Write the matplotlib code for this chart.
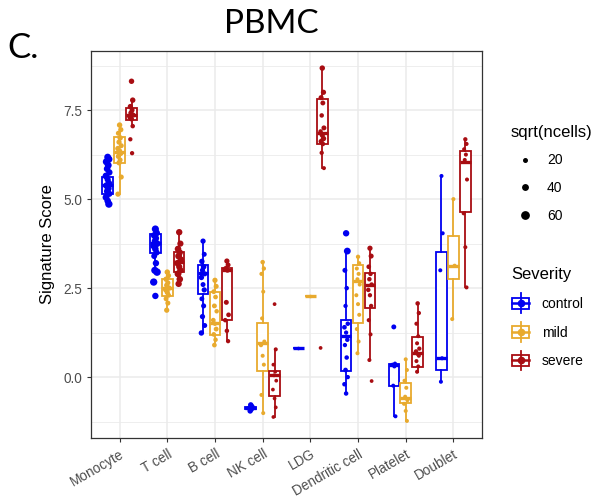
import matplotlib
matplotlib.use("Agg")
import matplotlib.pyplot as plt
from matplotlib.legend_handler import HandlerBase
from matplotlib.patches import Rectangle
from matplotlib.lines import Line2D
import numpy as np

plt.rcParams['font.family'] = ['Liberation Sans', 'DejaVu Sans']

cell_types = ['Monocyte', 'T cell', 'B cell', 'NK cell', 'LDG',
              'Dendritic cell', 'Platelet', 'Doublet']
severities = ['control', 'mild', 'severe']
colors = {'control': '#0000F0', 'mild': '#E8AA2E', 'severe': '#A80D12'}

# box stats per severity: (q1, median, q3, whisker low, whisker high), one per cell type
box_control = [(5.14, 5.39, 5.62, 4.86, 6.18), (3.48, 3.76, 4.01, 3.00, 4.16),
               (2.33, 2.93, 3.15, 1.24, 3.82), (-0.90, -0.87, -0.83, -0.95, -0.78),
               (0.82, 0.82, 0.82, 0.82, 0.82), (0.17, 1.16, 1.60, -0.46, 3.54),
               (-0.24, 0.35, 0.38, -1.10, 0.38), (0.21, 0.53, 3.52, -0.13, 5.65)]
box_mild = [(6.01, 6.32, 6.74, 5.14, 7.08), (2.28, 2.50, 2.75, 1.88, 2.95),
            (1.18, 1.52, 2.39, 0.90, 2.72), (0.17, 0.95, 1.52, -1.01, 3.23),
            (2.28, 2.28, 2.28, 2.28, 2.28), (1.52, 2.70, 3.15, 0.67, 3.38),
            (-0.72, -0.58, -0.17, -1.23, 0.50), (2.77, 3.13, 3.97, 1.63, 5.00)]
box_severe = [(7.22, 7.36, 7.55, 7.05, 7.78), (2.95, 3.24, 3.52, 2.58, 4.07),
              (1.60, 3.00, 3.06, 1.01, 3.26), (-0.53, 0.06, 0.17, -1.12, 0.78),
              (6.56, 6.85, 7.80, 5.87, 8.68), (1.93, 2.58, 2.92, 0.48, 3.62),
              (0.29, 0.68, 1.13, 0.15, 2.07), (4.64, 6.05, 6.36, 2.52, 6.68)]

# per-sample signature scores and sqrt(ncells)
score_control = [
    [6.18, 6.12, 6.05, 5.95, 5.85, 5.75, 5.65, 5.55, 5.45, 5.38, 5.30, 5.22, 5.15, 5.05, 4.95, 4.86],
    [4.16, 4.05, 3.98, 3.90, 3.82, 3.75, 3.68, 3.60, 3.50, 3.40, 3.20, 3.00, 2.95, 2.67, 2.28],
    [3.82, 3.45, 3.25, 3.10, 3.00, 2.90, 2.80, 2.60, 2.45, 2.20, 2.00, 1.70, 1.45, 1.24],
    [-0.78, -0.83, -0.87, -0.90, -0.95],
    [0.82],
    [4.04, 3.54, 3.00, 2.50, 2.00, 1.50, 1.40, 1.25, 1.05, 0.90, 0.55, 0.20, 0.00, -0.20, -0.46],
    [1.41, 0.38, 0.35, 0.30, -0.24, -1.10],
    [5.65, 4.04, 3.00, 0.53, -0.13]]
size_control = [
    [55, 58, 60, 55, 52, 50, 55, 48, 50, 52, 55, 50, 48, 55, 52, 60],
    [58, 55, 52, 50, 48, 55, 50, 52, 48, 45, 50, 58, 62, 60, 50],
    [38, 35, 40, 42, 38, 36, 40, 35, 38, 34, 36, 38, 35, 40],
    [40, 40, 40, 40, 40],
    [20],
    [50, 55, 35, 30, 28, 30, 32, 28, 30, 28, 30, 32, 28, 30, 30],
    [35, 25, 25, 25, 25, 25],
    [25, 25, 25, 25, 25]]
score_mild = [
    [7.08, 6.95, 6.85, 6.72, 6.60, 6.50, 6.42, 6.35, 6.28, 6.20, 6.10, 6.02, 5.62, 5.14],
    [2.95, 2.85, 2.75, 2.65, 2.58, 2.50, 2.45, 2.38, 2.30, 2.20, 2.08, 1.88],
    [2.72, 2.55, 2.40, 2.25, 2.00, 1.85, 1.60, 1.50, 1.35, 1.20, 1.05, 0.90],
    [3.23, 3.05, 2.90, 2.40, 1.65, 1.00, 0.90, 0.60, 0.35, -0.50, -1.01],
    [2.28],
    [3.38, 3.20, 3.05, 2.90, 2.75, 2.60, 2.30, 2.05, 1.75, 1.35, 1.00, 0.67],
    [0.50, 0.20, -0.10, -0.30, -0.55, -0.65, -0.75, -0.95, -1.23],
    [5.00, 3.13, 1.63]]
size_mild = [
    [40, 38, 36, 40, 38, 35, 40, 38, 36, 38, 35, 38, 36, 38],
    [40, 38, 40, 36, 38, 40, 36, 38, 36, 35, 36, 38],
    [38, 36, 34, 32, 34, 30, 32, 30, 34, 32, 30, 32],
    [30, 28, 26, 25, 25, 25, 28, 25, 25, 25, 25],
    [20],
    [28, 25, 25, 25, 25, 25, 25, 25, 25, 25, 25, 25],
    [25, 25, 25, 25, 25, 25, 25, 25, 25],
    [25, 25, 25]]
score_severe = [
    [8.31, 7.78, 7.60, 7.50, 7.42, 7.36, 7.30, 7.25, 7.05, 6.68, 6.29],
    [4.07, 3.75, 3.60, 3.50, 3.40, 3.30, 3.20, 3.10, 3.00, 2.90, 2.75, 2.62],
    [3.26, 3.15, 3.05, 3.00, 2.10, 1.75, 1.60, 1.30, 1.01],
    [2.05, 0.78, 0.35, 0.15, 0.05, -0.10, -0.35, -0.60, -0.85, -1.12],
    [8.68, 8.00, 7.85, 7.70, 7.35, 7.00, 6.90, 6.80, 6.70, 6.62, 6.55, 6.30, 5.87, 0.82],
    [3.62, 3.40, 3.10, 2.90, 2.75, 2.60, 2.45, 2.30, 2.00, 1.60, 1.20, 0.48, -0.11],
    [2.07, 1.80, 1.50, 1.15, 0.95, 0.80, 0.72, 0.65, 0.60, 0.45, 0.30, 0.15],
    [6.68, 6.55, 6.40, 6.25, 6.10, 5.55, 4.60, 3.65, 2.52]]
size_severe = [
    [40, 40, 38, 36, 38, 35, 36, 35, 30, 28, 28],
    [50, 48, 52, 50, 55, 50, 52, 48, 50, 55, 52, 50],
    [38, 35, 36, 34, 35, 32, 30, 30, 28],
    [22, 25, 22, 22, 22, 22, 22, 22, 22, 22],
    [40, 38, 36, 34, 30, 35, 30, 38, 40, 36, 32, 28, 25, 22],
    [38, 36, 32, 30, 30, 30, 30, 28, 28, 26, 25, 25, 22],
    [30, 28, 26, 25, 25, 28, 30, 26, 25, 25, 25, 25],
    [28, 26, 25, 25, 25, 25, 25, 25, 25]]

boxes = {'control': box_control, 'mild': box_mild, 'severe': box_severe}
scores = {'control': score_control, 'mild': score_mild, 'severe': score_severe}
sizes = {'control': size_control, 'mild': size_mild, 'severe': size_severe}


def msize(n):
    return (1.2 + 0.068 * np.asarray(n)) ** 2


fig = plt.figure(figsize=(5.97, 5.0), dpi=100)
ax = fig.add_axes([0.1524, 0.124, 0.655, 0.774])

offsets = {'control': -0.25, 'mild': 0.0, 'severe': 0.25}
jit = [0.0, 0.025, -0.025, 0.012, -0.012, 0.035, -0.035]
bw = 0.22
for sev in severities:
    c = colors[sev]
    x = np.arange(len(cell_types)) + offsets[sev]
    stats = []
    for q1, med, q3, lo, hi in boxes[sev]:
        stats.append(dict(q1=q1, med=med, q3=q3, whislo=lo, whishi=hi, fliers=[]))
    ax.bxp(stats, positions=x, widths=bw, patch_artist=True, showcaps=False,
           boxprops=dict(facecolor='white', edgecolor=c, linewidth=1.3),
           whiskerprops=dict(color=c, linewidth=1.3),
           medianprops=dict(color=c, linewidth=2.4, solid_capstyle='butt'),
           zorder=2)
    for i, (vals, ns) in enumerate(zip(scores[sev], sizes[sev])):
        xs = [x[i] + jit[k % len(jit)] for k in range(len(vals))]
        ax.scatter(xs, vals, s=msize(ns), color=c, linewidths=0, zorder=3)

ax.set_xlim(-0.6, 7.6)
ax.set_ylim(-1.71, 9.16)
ax.set_xticks(np.arange(len(cell_types)))
ax.set_xticklabels(cell_types, rotation=30, ha='right', rotation_mode='anchor',
                   fontsize=9.8, color='#4D4D4D')
ax.set_yticks([0, 2.5, 5, 7.5])
ax.set_yticklabels(['0.0', '2.5', '5.0', '7.5'], fontsize=9.8, color='#4D4D4D')
ax.set_yticks([-1.25, 1.25, 3.75, 6.25, 8.75], minor=True)
ax.tick_params(axis='both', which='major', length=3, color='#333333', width=0.8)
ax.tick_params(axis='y', which='minor', length=0)
ax.grid(True, which='major', color='#EBEBEB', linewidth=1.1, zorder=0)
ax.grid(True, which='minor', axis='y', color='#EBEBEB', linewidth=0.6, zorder=0)
ax.set_axisbelow(True)
for sp in ax.spines.values():
    sp.set_color('#333333')
    sp.set_linewidth(0.9)
ax.set_ylabel('Signature Score', fontsize=12, labelpad=6)

fig.text(0.455, 0.952, 'PBMC', fontsize=24, ha='center', va='center',
         family=['Lato', 'DejaVu Sans'])
fig.text(0.012, 0.905, 'C.', fontsize=25, ha='left', va='center',
         family=['Lato', 'DejaVu Sans'])


class BoxHandler(HandlerBase):
    def create_artists(self, legend, orig_handle, xdescent, ydescent,
                       width, height, fontsize, trans):
        c = orig_handle.get_color()
        cx = width / 2 - xdescent
        cy = height / 2 - ydescent
        bwid = width * 0.85
        bh = height * 1.0
        r = Rectangle((cx - bwid / 2, cy - bh / 2), bwid, bh, facecolor='white',
                      edgecolor=c, linewidth=1.3, transform=trans)
        v = Line2D([cx, cx], [cy - height * 0.85, cy + height * 0.85], color=c,
                   linewidth=1.3, transform=trans)
        m = Line2D([cx - bwid / 2, cx + bwid / 2], [cy, cy], color=c,
                   linewidth=1.8, transform=trans)
        d = Line2D([cx], [cy], marker='o', markersize=4.5, color=c,
                   linestyle='none', transform=trans)
        return [r, v, m, d]


size_handles = [Line2D([], [], marker='o', linestyle='none', color='black',
                       markersize=np.sqrt(msize(n))) for n in [20, 40, 60]]
leg1 = fig.legend(size_handles, ['20', '40', '60'], title='sqrt(ncells)',
                  loc='upper left', bbox_to_anchor=(0.835, 0.776), frameon=False,
                  fontsize=10, title_fontsize=12, handletextpad=0.6,
                  labelspacing=1.0, alignment='left')
sev_handles = [Line2D([], [], color=colors[s]) for s in severities]
leg2 = fig.legend(sev_handles, severities, title='Severity',
                  loc='upper left', bbox_to_anchor=(0.835, 0.49), frameon=False,
                  fontsize=10, title_fontsize=12, handlelength=1.4,
                  handleheight=0.9, handletextpad=0.8, labelspacing=1.05,
                  alignment='left', handler_map={Line2D: BoxHandler()})

fig.savefig('out.png', dpi=100)
